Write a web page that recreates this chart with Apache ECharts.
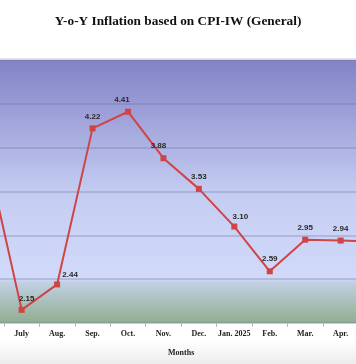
<!DOCTYPE html>
<html>
<head>
<meta charset="utf-8">
<script src="https://cdn.jsdelivr.net/npm/echarts@6/dist/echarts.min.js"></script>
<style>html,body{margin:0;padding:0;background:#fff;}#c{width:356px;height:364px;}</style>
</head>
<body>
<div id="c"></div>
<script>
const titleText = 'Y-o-Y Inflation based on CPI-IW (General)';
const axisName = 'Months';
const months = ['June', 'July', 'Aug.', 'Sep.', 'Oct.', 'Nov.', 'Dec.', 'Jan. 2025', 'Feb.', 'Mar.', 'Apr.', 'May'];
const inflation = [3.95, 2.15, 2.44, 4.22, 4.41, 3.88, 3.53, 3.10, 2.59, 2.95, 2.94, 2.93];
const yTicks = [2.0, 2.5, 3.0, 3.5, 4.0, 4.5, 5.0];

const labelOffsets = { 1: [5, 1], 2: [13, 2], 4: [-6, 0], 5: [-5, 0], 7: [6, 2] };

const chart = echarts.init(document.getElementById('c'), null, { renderer: 'canvas' });
const seriesData = inflation.map((v, i) => {
  const d = { value: v };
  if (labelOffsets[i]) d.label = { offset: labelOffsets[i] };
  return d;
});

chart.setOption({
  animation: false,
  backgroundColor: '#ffffff',
  title: {
    text: titleText, left: 'center', top: 10,
    textStyle: { fontFamily: 'Liberation Serif', fontWeight: 'bold', fontSize: 13.3, color: '#111' }
  },
  graphic: [
    { type: 'rect', left: 0, top: 340, shape: { width: 356, height: 24 }, silent: true, z: -10,
      style: { fill: new echarts.graphic.LinearGradient(0, 0, 0, 1, [
        { offset: 0, color: '#ffffff' }, { offset: 1, color: '#ececec' }]) } },
    { type: 'line', shape: { x1: 0, y1: 58.5, x2: 356, y2: 58.5 }, silent: true,
      style: { stroke: '#e4e4e4', lineWidth: 1 } }
  ],
  grid: {
    left: -31.5, right: -37.8, top: 60, bottom: 41,
    outerBoundsMode: 'none',
    show: true, borderWidth: 0,
    backgroundColor: new echarts.graphic.LinearGradient(0, 0, 0, 1, [
      { offset: 0, color: '#8282c6' },
      { offset: 0.5, color: '#c4ccf2' },
      { offset: 0.83, color: '#d2dafa' },
      { offset: 0.845, color: '#c2d0e4' },
      { offset: 1, color: '#8fae90' }
    ])
  },
  xAxis: {
    type: 'category', data: months, boundaryGap: true,
    name: axisName, nameLocation: 'middle', nameGap: 26,
    nameTextStyle: { fontFamily: 'Liberation Serif', fontWeight: 'bold', fontSize: 8, color: '#222' },
    axisLine: { show: true, lineStyle: { color: '#d0d0d0', width: 1 } },
    axisTick: { show: true, length: 4, lineStyle: { color: '#b8b8b8' } },
    axisLabel: { fontFamily: 'Liberation Serif', fontWeight: 'bold', fontSize: 8, color: '#222', margin: 7, interval: 0 }
  },
  yAxis: {
    type: 'value', min: yTicks[0], max: yTicks[yTicks.length - 1], interval: 0.5,
    axisLine: { show: false }, axisTick: { show: false }, axisLabel: { show: false },
    splitLine: { show: true, lineStyle: { color: 'rgba(110,110,160,0.38)', width: 1.5 } }
  },
  series: [{
    type: 'line', data: seriesData,
    symbol: 'rect', symbolSize: 6,
    lineStyle: { color: '#d04446', width: 2 },
    itemStyle: { color: '#d04446' },
    label: {
      show: true, position: 'top', distance: 5,
      formatter: p => p.value.toFixed(2),
      fontFamily: 'Liberation Sans', fontWeight: 'bold', fontSize: 8, color: '#2a2a2a'
    }
  }]
});
</script>
</body>
</html>
